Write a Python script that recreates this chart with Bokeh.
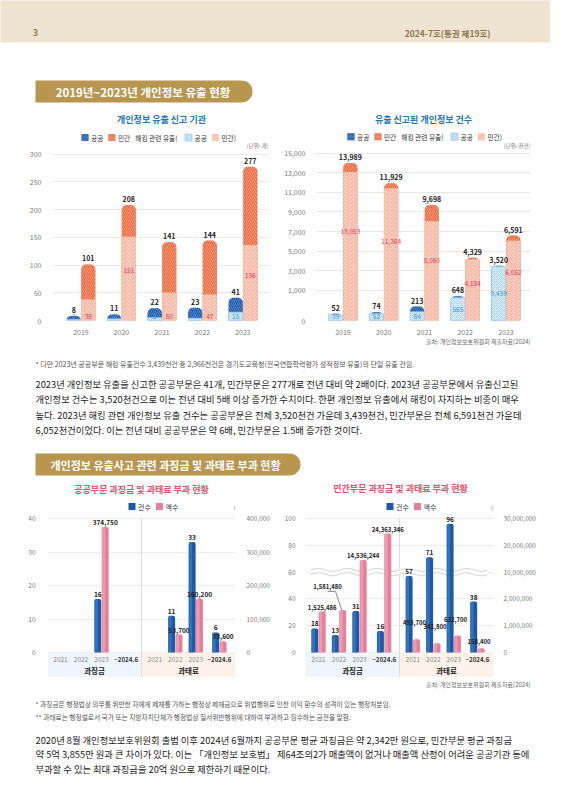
import numpy as np
from bokeh.plotting import figure
from bokeh.models import Range1d, FixedTicker, LinearAxis, Label, NumeralTickFormatter
from bokeh.layouts import column, row
from bokeh.core.properties import value
from bokeh.embed import file_html
from bokeh.resources import INLINE

FONT = "Noto Sans CJK KR"

# ---------------- data ----------------
years = ["2019", "2020", "2021", "2022", "2023"]
org_public = [8, 11, 22, 23, 41]
org_private = [101, 208, 141, 144, 277]
org_public_hack = [2, 3, 5, 4, 15]
org_private_hack = [38, 151, 50, 47, 136]
org_ticks = [0, 50, 100, 150, 200, 250, 300]

rec_public = [52, 74, 213, 648, 3520]
rec_private = [13989, 11929, 9698, 4329, 6591]
rec_public_hack = [39, 52, 84, 565, 3439]
rec_private_hack = [13053, 11384, 8060, 4184, 6052]
rec_ticks = [0, 1000, 3000, 5000, 7000, 9000, 11000, 13000, 15000]

fine_groups = ["과징금", "과태료"]
fine_periods = ["2021", "2022", "2023", "~2024.6"]
pub_fine_count = [None, None, 16, None]
pub_fine_amount = [None, None, 374750, None]
pub_pen_count = [None, 11, 33, 6]
pub_pen_amount = [None, 53700, 160200, 33600]
pub_left_ticks = [0, 10, 20, 30, 40]
pub_right_ticks = [0, 100000, 200000, 300000, 400000]

pri_fine_count = [18, 13, 31, 16]
pri_fine_amount = [1525486, 1581480, 14536244, 24363346]
pri_pen_count = [57, 71, 96, 38]
pri_pen_amount = [493700, 341800, 632700, 158400]
pri_left_ticks = [0, 20, 40, 60, 80, 100]
pri_right_ticks = [0, 1000000, 2000000, 10000000, 20000000, 30000000]

# ---------------- styles ----------------
C_PUB, H_PUB = "#1b59a6", "#4f88cc"
C_PRI, H_PRI = "#ea6942", "#f39a78"
C_HPUB, H_HPUB = "#d8ecf9", "#a9d4f1"
C_HPRI, H_HPRI = "#f6b4a0", "#fbd6c9"
C_CNT, C_CNT2 = "#1c5aa8", "#4a86cc"
C_AMT, C_AMT2 = "#e6809a", "#f4adbd"
BLUE_T = "#1f74bb"
PINK_T = "#e2506c"
GOLD = "#b8964e"


def tw(s, fs):
    w = 0.0
    for ch in s:
        o = ord(ch)
        if 0xAC00 <= o <= 0xD7A3 or 0x3000 <= o <= 0x9FFF:
            w += 1.0
        elif ch.isdigit():
            w += 0.56
        elif ch == " ":
            w += 0.25
        elif ch in ",.:":
            w += 0.27
        elif ch in "()":
            w += 0.33
        else:
            w += 0.55
    return w * fs


def base_fig(w, h, xr, yr, **kw):
    p = figure(width=w, height=h, x_range=xr, y_range=yr, output_backend="svg",
               toolbar_location=None, **kw)
    p.outline_line_color = None
    p.background_fill_color = "white"
    p.border_fill_color = "white"
    return p


def txt(p, x, y, s, fs, color="#222", align="left", bold=False, baseline="middle", **kw):
    p.text(x=[x], y=[y], text=[s], text_font=value(FONT), text_font_size=f"{fs}px",
           text_color=color, text_align=align, text_baseline=baseline,
           text_font_style="bold" if bold else "normal", **kw)


def text_fig(h):
    p = base_fig(550, h, Range1d(0, 550), Range1d(h, 0), x_axis_location=None,
                 y_axis_location=None, min_border=0)
    p.grid.visible = False
    return p


def style_axes(p, fs="7px", color="#7a7a7a"):
    for ax in p.axis:
        ax.axis_line_color = None
        ax.major_tick_line_color = None
        ax.minor_tick_line_color = None
        ax.major_label_text_font = FONT
        ax.major_label_text_font_size = fs
        ax.major_label_text_color = color


def legend(p, X, Y, x0, y0, items, fs=6.7):
    x = x0
    for kind, arg in items:
        if kind == "sq":
            p.scatter(x=[X(x + 3.5)], y=[Y(y0)], marker="square", size=7, **arg)
            x += 9.5
        else:
            txt(p, X(x), Y(y0), arg, fs, color="#333")
            x += tw(arg, fs) + 4


SQ_PUB = dict(fill_color=C_PUB, line_color=None, hatch_pattern="/", hatch_color=H_PUB, hatch_scale=3.5)
SQ_PRI = dict(fill_color=C_PRI, line_color=None, hatch_pattern="/", hatch_color=H_PRI, hatch_scale=3.5)
SQ_HPUB = dict(fill_color=C_HPUB, line_color="#8fc3ea", line_width=0.6, hatch_pattern="x", hatch_color=H_HPUB, hatch_scale=3.5)
SQ_HPRI = dict(fill_color=C_HPRI, line_color=None, hatch_pattern="/", hatch_color=H_HPRI, hatch_scale=3.5)

LEG_TOP = [("sq", SQ_PUB), ("t", "공공"), ("sq", SQ_PRI), ("t", "민간"), ("t", "해킹 관련 유출("),
           ("sq", SQ_HPUB), ("t", "공공"), ("sq", SQ_HPRI), ("t", "민간)")]

# ---------------- header (page rows 0..110) ----------------
f1 = text_fig(110)
f1.quad(left=[-5], right=[555], top=[-5], bottom=[42], fill_color="#efe4d1", line_color=None)
txt(f1, 35, 32, "3", 8.5, color="#8b7650", bold=True, align="center")
txt(f1, 490, 32, "2024-7호(통권 제19호)", 8.5, color="#8b7650", bold=True, align="right")
f1.quad(left=[35], right=[252], top=[80], bottom=[102], fill_color=GOLD, line_color=None,
        border_radius=(0, 11, 11, 0))
txt(f1, 142.5, 91, "2019년~2023년 개인정보 유출 현황", 11.5, color="white", bold=True, align="center")

# ---------------- chart 1 (page x 0..275, y 110..337) ----------------
k1 = 172 / 300
X1 = lambda r: (r - 80.5) / 40.5
Y1 = lambda r: (327 - r) / k1
c1 = base_fig(275, 227, Range1d(X1(52), X1(268)), Range1d(0, Y1(110)),
              min_border_left=52, min_border_right=7, min_border_top=0, min_border_bottom=10)
style_axes(c1)
c1.yaxis.ticker = FixedTicker(ticks=org_ticks)
c1.ygrid.ticker = FixedTicker(ticks=org_ticks)
c1.yaxis.major_label_standoff = 5
c1.xaxis.ticker = FixedTicker(ticks=list(range(len(years))))
c1.xaxis.major_label_overrides = {i: y for i, y in enumerate(years)}
c1.xaxis.major_label_standoff = 2
c1.xgrid.visible = False
c1.ygrid.grid_line_color = "#e8e8e8"

idx = np.arange(len(years))
W1 = 0.35
xp, xq = idx - 0.18, idx + 0.18
c1.vbar(x=xp, top=org_public, bottom=0, width=W1, fill_color=C_PUB, line_color=None,
        hatch_pattern="/", hatch_color=H_PUB, hatch_scale=4, border_radius=(5, 5, 0, 0))
c1.vbar(x=xq, top=org_private, bottom=0, width=W1, fill_color=C_PRI, line_color=None,
        hatch_pattern="/", hatch_color=H_PRI, hatch_scale=4, border_radius=(5, 5, 0, 0))
c1.vbar(x=xp, top=org_public_hack, bottom=0, width=W1, fill_color=C_HPUB, line_color="#9ccbec",
        line_width=0.6, hatch_pattern="x", hatch_color=H_HPUB, hatch_scale=4)
c1.vbar(x=xq, top=org_private_hack, bottom=0, width=W1, fill_color=C_HPRI, line_color=None,
        hatch_pattern="/", hatch_color=H_HPRI, hatch_scale=4)
c1.text(x=xp, y=org_public, text=[str(v) for v in org_public], text_font=value(FONT),
        text_font_size="7px", text_font_style="bold", text_color="#222", text_align="center",
        text_baseline="bottom", y_offset=-3)
c1.text(x=xq, y=org_private, text=[str(v) for v in org_private], text_font=value(FONT),
        text_font_size="7px", text_font_style="bold", text_color="#222", text_align="center",
        text_baseline="bottom", y_offset=-3)
ph = np.array(org_public_hack, float)
qh = np.array(org_private_hack, float)
c1.text(x=xp, y=np.where(ph >= 100, ph * 0.6, 4 / k1), text=[str(v) for v in org_public_hack],
        text_font=value(FONT), text_font_size="6.5px", text_color="#3d8fd6", text_align="center",
        text_baseline="middle")
c1.text(x=xq, y=np.where(qh >= 100, qh * 0.6, 4 / k1), text=[str(v) for v in org_private_hack],
        text_font=value(FONT), text_font_size="6.5px", text_color="#e8365d", text_align="center",
        text_baseline="middle")
txt(c1, X1(161), Y1(119), "개인정보 유출 신고 기관", 9, color=BLUE_T, bold=True, align="center")
legend(c1, X1, Y1, 81, 138, LEG_TOP)
txt(c1, X1(268), Y1(147), "(단위: 개)", 5.5, color="#777", align="right")

# ---------------- chart 2 (page x 275..550) ----------------
def t_rec(v):
    v = np.asarray(v, dtype=float)
    return np.where(v <= 1000, 3070 * np.sqrt(np.clip(v, 0, None) / 1000), 3070 + (v - 1000))

k2 = 173 / float(t_rec([15000])[0])
X2 = lambda r: (r - 342.5) / 40.75
Y2 = lambda r: (327 - r) / k2
c2 = base_fig(275, 227, Range1d(X2(315), X2(530)), Range1d(0, Y2(110)),
              min_border_left=40, min_border_right=20, min_border_top=0, min_border_bottom=10)
style_axes(c2)
rt = [float(v) for v in t_rec(rec_ticks)]
c2.yaxis.ticker = FixedTicker(ticks=rt)
c2.ygrid.ticker = FixedTicker(ticks=rt)
c2.yaxis.major_label_overrides = {tv: f"{v:,}" for tv, v in zip(rt, rec_ticks)}
c2.yaxis.major_label_standoff = 4
c2.xaxis.ticker = FixedTicker(ticks=list(range(len(years))))
c2.xaxis.major_label_overrides = {i: y for i, y in enumerate(years)}
c2.xaxis.major_label_standoff = 2
c2.xgrid.visible = False
c2.ygrid.grid_line_color = "#e8e8e8"

c2.vbar(x=xp, top=t_rec(rec_public), bottom=0, width=W1, fill_color=C_PUB, line_color=None,
        hatch_pattern="/", hatch_color=H_PUB, hatch_scale=4, border_radius=(5, 5, 0, 0))
c2.vbar(x=xq, top=t_rec(rec_private), bottom=0, width=W1, fill_color=C_PRI, line_color=None,
        hatch_pattern="/", hatch_color=H_PRI, hatch_scale=4, border_radius=(5, 5, 0, 0))
c2.vbar(x=xp, top=t_rec(rec_public_hack), bottom=0, width=W1, fill_color=C_HPUB, line_color="#9ccbec",
        line_width=0.6, hatch_pattern="x", hatch_color=H_HPUB, hatch_scale=4)
c2.vbar(x=xq, top=t_rec(rec_private_hack), bottom=0, width=W1, fill_color=C_HPRI, line_color=None,
        hatch_pattern="/", hatch_color=H_HPRI, hatch_scale=4)
c2.text(x=xp, y=t_rec(rec_public), text=[f"{v:,}" for v in rec_public], text_font=value(FONT),
        text_font_size="7px", text_font_style="bold", text_color="#222", text_align="center",
        text_baseline="bottom", y_offset=-3)
c2.text(x=xq, y=t_rec(rec_private), text=[f"{v:,}" for v in rec_private], text_font=value(FONT),
        text_font_size="7px", text_font_style="bold", text_color="#222", text_align="center",
        text_baseline="bottom", y_offset=-3)
c2.text(x=xp, y=np.maximum(t_rec(rec_public_hack) * 0.5, 4 / k2),
        text=[f"{v:,}" for v in rec_public_hack], text_font=value(FONT), text_font_size="6.5px",
        text_color="#3d8fd6", text_align="center", text_baseline="middle")
c2.text(x=xq, y=t_rec(rec_private_hack) * 0.6, text=[f"{v:,}" for v in rec_private_hack],
        text_font=value(FONT), text_font_size="6.5px", text_color="#e8365d", text_align="center",
        text_baseline="middle")
txt(c2, X2(423), Y2(119), "유출 신고된 개인정보 건수", 9, color=BLUE_T, bold=True, align="center")
legend(c2, X2, Y2, 347, 137, LEG_TOP)
txt(c2, X2(530), Y2(147), "(단위: 천건)", 5.5, color="#777", align="right")

# ---------------- middle text (page rows 337..482) ----------------
f2 = text_fig(145)
txt(f2, 530, 4, "출처: 개인정보보호위원회 제출자료(2024)", 6, color="#666", align="right")
txt(f2, 35, 26, "* 다만 2023년 공공부문 해킹 유출건수 3,439천건 중 2,966천건은 경기도교육청(전국연합학력평가 성적정보 유출)의 단일 유출 건임.",
    7, color="#555")
para1 = [
    "2023년 개인정보 유출을 신고한 공공부문은 41개, 민간부문은 277개로 전년 대비 약 2배이다. 2023년 공공부문에서 유출신고된",
    "개인정보 건수는 3,520천건으로 이는 전년 대비 5배 이상 증가한 수치이다. 한편 개인정보 유출에서 해킹이 차지하는 비중이 매우",
    "높다. 2023년 해킹 관련 개인정보 유출 건수는 공공부문은 전체 3,520천건 가운데 3,439천건, 민간부문은 전체 6,591천건 가운데",
    "6,052천건이었다. 이는 전년 대비 공공부문은 약 6배, 민간부문은 1.5배 증가한 것이다.",
]
for i, s in enumerate(para1):
    txt(f2, 35, 46 + i * 15.5, s, 9.3, color="#222")
f2.quad(left=[35], right=[300], top=[116], bottom=[138], fill_color=GOLD, line_color=None,
        border_radius=(0, 11, 11, 0))
txt(f2, 165, 127, "개인정보 유출사고 관련 과징금 및 과태료 부과 현황", 11, color="white", bold=True, align="center")

# ---------------- lower charts (page rows 482..677) ----------------
pos_left = np.array([0.0, 1.0, 2.0, 3.2])
pos_right = np.array([4.6, 5.6, 6.6, 7.75])


def lower_chart(title, title_x, title_y, k, zero, top_tick, P, frame_l, frame_r, border_l, border_r,
                left_ticks, leg_x):
    Y = lambda r: (zero - r) / k
    p = base_fig(275, 195, Range1d(P(frame_l), P(frame_r)), Range1d(Y(677), Y(482)),
                 x_axis_location=None, min_border_left=border_l, min_border_right=border_r,
                 min_border_top=0, min_border_bottom=0)
    p.yaxis.ticker = FixedTicker(ticks=left_ticks)
    p.ygrid.ticker = FixedTicker(ticks=left_ticks)
    p.ygrid.grid_line_color = "#ececec"
    p.xgrid.visible = False
    xs, xe = P(frame_l), P(frame_r)
    xm = (xs + xe) / 2
    ybot = Y(677)
    p.quad(left=[xs, xm], right=[xm, xe], bottom=[ybot, ybot], top=[0, 0],
           fill_color=["#eef5fc", "#fdf2e9"], line_color=None)
    p.segment(x0=[xm], y0=[ybot], x1=[xm], y1=[top_tick], line_color="#dcdcdc", line_width=1)
    txt(p, P(title_x), Y(title_y), title, 9, color=PINK_T, bold=True, align="center")
    legend(p, P, Y, leg_x, 506, [("sq", dict(fill_color=C_CNT, line_color=None)), ("t", "건수"),
                                 ("sq", dict(fill_color=C_AMT, line_color=None)), ("t", "액수")], fs=7)
    for base in [pos_left, pos_right]:
        for j, per in enumerate(fine_periods):
            last = per.startswith("~")
            txt(p, base[j], Y(659), per, 6.2 if last else 6.5, color="#333" if last else "#8a8a8a",
                bold=last, align="center")
    txt(p, (xs + xm) / 2, Y(669.5), fine_groups[0], 7.5, color="#222", bold=True, align="center")
    txt(p, (xm + xe) / 2, Y(669.5), fine_groups[1], 7.5, color="#222", bold=True, align="center")
    return p, Y


def draw_pairs(p, base, counts, amount_y, amount_vals):
    cx = [b - 0.18 for b, c in zip(base, counts) if c is not None]
    cv = [c for c in counts if c is not None]
    ax = [b + 0.18 for b, a in zip(base, amount_vals) if a is not None]
    ay = [y for y, a in zip(amount_y, amount_vals) if a is not None]
    av = [a for a in amount_vals if a is not None]
    W = 0.34
    p.vbar(x=cx, top=cv, bottom=0, width=W, fill_color=C_CNT, line_color=None, border_radius=(2, 2, 0, 0))
    p.vbar(x=[x - 0.07 for x in cx], top=cv, bottom=0, width=W * 0.4, fill_color=C_CNT2,
           fill_alpha=0.55, line_color=None)
    p.vbar(x=ax, top=ay, bottom=0, width=W, fill_color=C_AMT, line_color=None, border_radius=(2, 2, 0, 0))
    p.vbar(x=[x - 0.07 for x in ax], top=ay, bottom=0, width=W * 0.4, fill_color=C_AMT2,
           fill_alpha=0.6, line_color=None)
    p.text(x=cx, y=cv, text=[str(v) for v in cv], text_font=value(FONT), text_font_size="6.5px",
           text_font_style="bold", text_color="#222", text_align="center", text_baseline="bottom", y_offset=-2)
    return ax, ay, av


# chart 3 (public), page x 0..275
P3 = lambda r: (r - 60) / 20.5
c3, Y3 = lower_chart("공공부문 과징금 및 과태료 부과 현황", 141, 489, 3.35, 652, 40, P3, 47, 235, 47, 40,
                     pub_left_ticks, 128)
rng3 = c3.y_range
c3.extra_y_ranges = {"amt": Range1d(rng3.start * 10000, rng3.end * 10000)}
ax_r3 = LinearAxis(y_range_name="amt", ticker=FixedTicker(ticks=pub_right_ticks),
                   formatter=NumeralTickFormatter(format="0,0"))
c3.add_layout(ax_r3, "right")
style_axes(c3, fs="6.5px")
c3.yaxis.major_label_standoff = 6
ax_r3.major_label_standoff = 5


def to_left3(vals):
    return [None if v is None else v / 10000 for v in vals]

for base, cnt, amt in [(pos_left, pub_fine_count, pub_fine_amount), (pos_right, pub_pen_count, pub_pen_amount)]:
    ax, ay, av = draw_pairs(c3, base, cnt, to_left3(amt), amt)
    c3.text(x=ax, y=ay, text=[f"{v:,}" for v in av], text_font=value(FONT), text_font_size="6.5px",
            text_font_style="bold", text_color="#222", text_align="center", text_baseline="bottom", y_offset=-2)
c3.add_layout(Label(x=P3(269), y=Y3(507), text="(단위: 건, 천 원)", text_font=FONT, text_font_size="5.5px",
                    text_color="#777", text_align="right", text_baseline="middle"))

# chart 4 (private), page x 275..550
P4 = lambda r: (r - 318) / 20.5
c4, Y4 = lower_chart("민간부문 과징금 및 과태료 부과 현황", 400, 488, 1.34, 652, 100, P4, 305, 493, 30, 57,
                     pri_left_ticks, 386)
ax_r4 = LinearAxis(ticker=FixedTicker(ticks=pri_left_ticks),
                   major_label_overrides={t: f"{v:,}" for t, v in zip(pri_left_ticks, pri_right_ticks)})
c4.add_layout(ax_r4, "right")
style_axes(c4, fs="6.5px")
c4.yaxis[0].major_label_standoff = 4
ax_r4.major_label_standoff = 4


def to_left4(vals):
    return list(np.interp(np.array(vals, float), pri_right_ticks, pri_left_ticks))

# broken-axis wave (decoration)
wx = np.linspace(P4(310), P4(487), 200)
wy = 60 + 1.1 * np.sin((wx - wx[0]) * 2 * np.pi / 1.45)
c4.line(wx, wy, line_color="white", line_width=5)
c4.line(wx, wy + 1.6, line_color="#c4c4c4", line_width=0.8)
c4.line(wx, wy - 1.6, line_color="#c4c4c4", line_width=0.8)

fa_y = to_left4(pri_fine_amount)
pa_y = to_left4(pri_pen_amount)
ax, ay, av = draw_pairs(c4, pos_left, pri_fine_count, fa_y, pri_fine_amount)
lab_i = [0, 2, 3]
c4.text(x=[ax[i] for i in lab_i], y=[ay[i] for i in lab_i], text=[f"{av[i]:,}" for i in lab_i],
        text_font=value(FONT), text_font_size="6px", text_font_style="bold", text_color="#222",
        text_align="center", text_baseline="bottom", y_offset=-2)
bx, by = ax[1], ay[1]
c4.line(x=[bx - 0.74, bx - 0.35, bx - 0.05], y=[by + 14, by + 14, by], line_color="#555", line_width=0.7)
c4.text(x=[bx - 0.74], y=[by + 14], text=[f"{av[1]:,}"], text_font=value(FONT), text_font_size="6px",
        text_font_style="bold", text_color="#222", text_align="center", text_baseline="bottom", y_offset=-2)
ax, ay, av = draw_pairs(c4, pos_right, pri_pen_count, pa_y, pri_pen_amount)
c4.text(x=ax, y=ay, text=[f"{v:,}" for v in av], text_font=value(FONT), text_font_size="6px",
        text_font_style="bold", text_color="#222", text_align="center", text_baseline="bottom",
        y_offset=[-14, -14, -14, -4], x_offset=-2)
c4.add_layout(Label(x=P4(526), y=Y4(507), text="(단위: 건, 천 원)", text_font=FONT, text_font_size="5.5px",
                    text_color="#777", text_align="right", text_baseline="middle"))

# ---------------- bottom text (page rows 677..784) ----------------
f3 = text_fig(107)
txt(f3, 530, 7, "출처: 개인정보보호위원회 제출자료(2024)", 6, color="#666", align="right")
txt(f3, 35, 26, "* 과징금은 행정법상 의무를 위반한 자에게 제재를 가하는 행정상 제재금으로 위법행위로 인한 이익 환수의 성격이 있는 행정처분임.",
    6.7, color="#555")
txt(f3, 35, 39, "** 과태료는 행정벌로서 국가 또는 지방자치단체가 행정법상 질서위반행위에 대하여 부과하고 징수하는 금전을 말함.",
    6.7, color="#555")
para2 = [
    "2020년 8월 개인정보보호위원회 출범 이후 2024년 6월까지 공공부문 평균 과징금은 약 2,342만 원으로, 민간부문 평균 과징금",
    "약 5억 3,855만 원과 큰 차이가 있다. 이는 「개인정보 보호법」 제64조의2가 매출액이 없거나 매출액 산정이 어려운 공공기관 등에",
    "부과할 수 있는 최대 과징금을 20억 원으로 제한하기 때문이다.",
]
for i, s in enumerate(para2):
    txt(f3, 35, 62 + i * 14.5, s, 9.3, color="#222")

layout = column(f1, row(c1, c2), f2, row(c3, c4), f3)
open("out.html", "w").write(file_html(layout, INLINE))
